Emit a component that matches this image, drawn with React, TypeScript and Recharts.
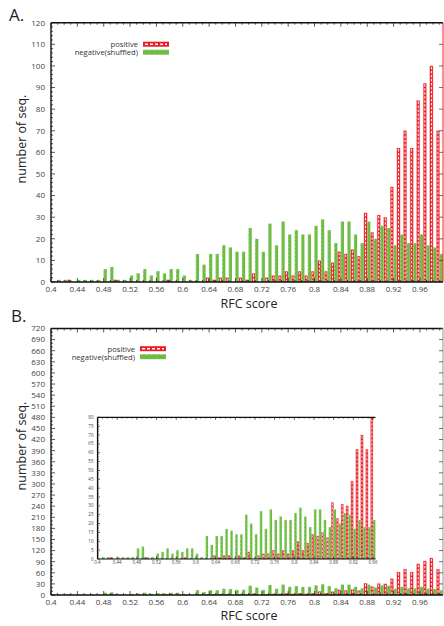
import React from 'react';
import { BarChart, Bar, XAxis, YAxis } from 'recharts';

// bin centres (RFC score), one red + one green bar per bin
const bins = [
  0.41, 0.42, 0.43, 0.44, 0.45, 0.46, 0.47, 0.48, 0.49, 0.5,
  0.51, 0.52, 0.53, 0.54, 0.55, 0.56, 0.57, 0.58, 0.59, 0.6,
  0.61, 0.62, 0.63, 0.64, 0.65, 0.66, 0.67, 0.68, 0.69, 0.7,
  0.71, 0.72, 0.73, 0.74, 0.75, 0.76, 0.77, 0.78, 0.79, 0.8,
  0.81, 0.82, 0.83, 0.84, 0.85, 0.86, 0.87, 0.88, 0.89, 0.9,
  0.91, 0.92, 0.93, 0.94, 0.95, 0.96, 0.97, 0.98, 0.99,
];

const positive = [
  0, 0, 1, 0, 0, 0, 0, 0, 0, 1,
  0, 0, 0, 0, 0, 0, 0, 1, 0, 0,
  0, 0, 0, 2, 1, 2, 2, 0, 2, 1,
  4, 0, 2, 3, 3, 5, 3, 5, 3, 5,
  10, 5, 9, 14, 13, 15, 12, 32, 23, 31,
  30, 44, 62, 70, 62, 84, 92, 100, 70,
];

const negative = [
  1, 1, 0, 1, 1, 1, 1, 6, 7, 1,
  1, 3, 4, 6, 3, 5, 4, 6, 6, 3,
  1, 13, 8, 13, 13, 17, 16, 14, 14, 25,
  20, 14, 27, 17, 28, 22, 24, 22, 22, 26,
  29, 24, 18, 28, 28, 22, 18, 28, 20, 26,
  25, 17, 22, 18, 18, 22, 17, 16, 13,
];

const xLabels = [
  '0.4', '0.44', '0.48', '0.52', '0.56', '0.6', '0.64', '0.68',
  '0.72', '0.76', '0.8', '0.84', '0.88', '0.92', '0.96',
];
const yLabelsA = [0, 10, 20, 30, 40, 50, 60, 70, 80, 90, 100, 110, 120];
const yLabelsB = [
  0, 30, 60, 90, 120, 150, 180, 210, 240, 270, 300, 330, 360,
  390, 420, 450, 480, 510, 540, 570, 600, 630, 660, 690, 720,
];
const yLabelsInset = [0, 5, 10, 15, 20, 25, 30, 35, 40, 45, 50, 55, 60, 65, 70, 75, 80];

const RED = '#ec1c24';
const GREEN = '#6dbd45';
const FONT = '"Open Sans", "DejaVu Sans", sans-serif';

function PositiveBar(props: any) {
  const { x, y, width, height } = props;
  if (!height || height <= 0) return <g />;
  const cx = x + width / 2;
  return (
    <g>
      <rect x={x} y={y} width={width} height={height} fill={RED} stroke="#f4a0a3" strokeWidth={0.4} />
      {height > 3 && (
        <line
          x1={cx}
          x2={cx}
          y1={y + 1}
          y2={y + height - 1}
          stroke="#fff"
          strokeWidth={width * 0.3}
          strokeDasharray="2.5 1.5"
        />
      )}
    </g>
  );
}

function NegativeBar(props: any) {
  const { x, y, width, height } = props;
  if (!height || height <= 0) return <g />;
  return (
    <g>
      <rect x={x} y={y} width={width} height={height} fill={GREEN} />
      <line
        x1={x + 0.3}
        x2={x + 0.3}
        y1={y}
        y2={y + height}
        stroke="#c6e6b1"
        strokeWidth={0.6}
        strokeDasharray="2 2"
      />
    </g>
  );
}

// keeps the frame axes attached to data; draws nothing
const NoBar = () => <g />;

const label = (v: number) => String(Number(v.toFixed(2)));

interface PanelProps {
  width: number;
  height: number;
  // plot-area edges inside this chart
  margin: { top: number; right: number; bottom: number; left: number };
  count: number;
  xMax: number;
  yMax: number;
  yMajor: number[];
  yStep: number;
  barSize: number;
  fontSize: number;
  tickLen: number;
  lineWidth: number;
  labelGap: number;
  xLabelDy: number;
  rightStroke?: string;
  left: number;
  top: number;
}

function Panel(p: PanelProps) {
  const rows = bins.slice(0, p.count).map((b, i) => ({
    bin: b.toFixed(2),
    x: b,
    positive: positive[i],
    negative: negative[i],
  }));
  const plotW = p.width - p.margin.left - p.margin.right;
  const band = plotW / (p.count + 0.5);
  const xTicks = [0.4, ...bins.slice(0, p.count)];
  const yTicks: number[] = [];
  for (let v = 0; v <= p.yMax; v += p.yStep) yTicks.push(v);
  // axes get a 1px box (a 0px one is not drawn), taken out of the margins
  const m = {
    top: p.margin.top - 1,
    bottom: p.margin.bottom - 1,
    left: p.margin.left - 1,
    right: p.rightStroke ? p.margin.right - 1 : p.margin.right,
  };
  const frameY = p.rightStroke ? 'right' : 'left';

  const bottomTick = (t: any) => {
    const v = t.payload.value;
    const major = xLabels.includes(label(v));
    return (
      <g>
        <line x1={t.x} x2={t.x} y1={t.y} y2={t.y - (major ? p.tickLen : p.tickLen / 2)} stroke="#111" strokeWidth={0.7} />
        {major && (
          <text x={t.x} y={t.y + p.xLabelDy} textAnchor="middle" fontSize={p.fontSize} fill="#444" fontFamily={FONT}>
            {label(v)}
          </text>
        )}
      </g>
    );
  };
  const topTick = (t: any) => {
    const major = xLabels.includes(label(t.payload.value));
    return (
      <line x1={t.x} x2={t.x} y1={t.y} y2={t.y + (major ? p.tickLen : p.tickLen / 2)} stroke="#111" strokeWidth={0.7} />
    );
  };
  const leftTick = (t: any) => {
    const v = t.payload.value;
    const major = p.yMajor.includes(v);
    return (
      <g>
        <line x1={t.x} x2={t.x + (major ? p.tickLen : p.tickLen / 2)} y1={t.y} y2={t.y} stroke="#111" strokeWidth={0.7} />
        {major && (
          <text
            x={t.x - p.labelGap}
            y={t.y + p.fontSize * 0.36}
            textAnchor="end"
            fontSize={p.fontSize}
            fill="#444"
            fontFamily={FONT}
          >
            {v}
          </text>
        )}
      </g>
    );
  };
  const rightTick = (t: any) => (
    <line x1={t.x} x2={t.x - p.tickLen} y1={t.y} y2={t.y} stroke="#333" strokeWidth={0.7} />
  );

  return (
    <div style={{ position: 'absolute', left: p.left, top: p.top }}>
      <BarChart width={p.width} height={p.height} data={rows} margin={m} barCategoryGap={0} barGap={0}>
        <XAxis xAxisId="cat" dataKey="bin" type="category" hide height={0} padding={{ left: band / 2, right: 0 }} />
        <XAxis
          xAxisId="num"
          dataKey="x"
          type="number"
          domain={[0.4, p.xMax]}
          allowDataOverflow
          ticks={xTicks}
          interval={0}
          height={1}
          tickSize={0}
          tickMargin={0}
          tickLine={false}
          axisLine={{ stroke: '#111', strokeWidth: p.lineWidth }}
          tick={bottomTick}
        />
        <XAxis
          xAxisId="top"
          dataKey="x"
          orientation="top"
          type="number"
          domain={[0.4, p.xMax]}
          allowDataOverflow
          ticks={xTicks}
          interval={0}
          height={1}
          tickSize={0}
          tickMargin={0}
          tickLine={false}
          axisLine={{ stroke: '#111', strokeWidth: p.lineWidth }}
          tick={topTick}
        />
        <YAxis
          yAxisId="left"
          type="number"
          domain={[0, p.yMax]}
          allowDataOverflow
          ticks={yTicks}
          interval={0}
          width={1}
          tickSize={0}
          tickMargin={0}
          tickLine={false}
          axisLine={{ stroke: '#111', strokeWidth: p.lineWidth }}
          tick={leftTick}
        />
        {p.rightStroke && (
          <YAxis
            yAxisId="right"
            orientation="right"
            type="number"
            domain={[0, p.yMax]}
            allowDataOverflow
            ticks={p.yMajor}
            interval={0}
            width={1}
            tickSize={0}
            tickMargin={0}
            tickLine={false}
            axisLine={{ stroke: p.rightStroke, strokeWidth: 1 }}
            tick={rightTick}
          />
        )}
        <Bar
          xAxisId="cat"
          yAxisId="left"
          dataKey="positive"
          barSize={p.barSize}
          shape={PositiveBar}
          isAnimationActive={false}
        />
        <Bar
          xAxisId="cat"
          yAxisId="left"
          dataKey="negative"
          barSize={p.barSize}
          shape={NegativeBar}
          isAnimationActive={false}
        />
        <Bar xAxisId="num" yAxisId={frameY} dataKey="negative" shape={NoBar} legendType="none" isAnimationActive={false} />
        <Bar xAxisId="top" yAxisId={frameY} dataKey="negative" shape={NoBar} legendType="none" isAnimationActive={false} />
      </BarChart>
    </div>
  );
}

function LegendKey({ x, y, text }: { x: number; y: number; text: string }) {
  return (
    <g fontFamily={FONT} fontSize={7.6} fill="#333">
      <text x={x - 5} y={y + 2.8} textAnchor="end">positive</text>
      <rect x={x} y={y - 2.5} width={26} height={5} fill={RED} />
      <line x1={x + 2} x2={x + 24} y1={y} y2={y} stroke="#fff" strokeWidth={1.6} strokeDasharray="3 2" />
      <text x={x - 5} y={y + 11.2} textAnchor="end">{text}</text>
      <rect x={x} y={y + 5.5} width={26} height={5} fill={GREEN} />
      <line x1={x} x2={x + 26} y1={y + 5.8} y2={y + 5.8} stroke="#c6e6b1" strokeWidth={0.6} strokeDasharray="3 2" />
    </g>
  );
}

export default function App() {
  return (
    <div style={{ position: 'absolute', left: 0, top: 0, width: 444, height: 626, background: '#fff', overflow: 'hidden' }}>
      <Panel
        left={0}
        top={0}
        width={444}
        height={300}
        margin={{ top: 22.7, right: 1, bottom: 18, left: 51 }}
        count={59}
        xMax={0.995}
        yMax={120}
        yMajor={yLabelsA}
        yStep={2}
        barSize={3.2}
        fontSize={8}
        tickLen={4}
        lineWidth={1.4}
        labelGap={6}
        xLabelDy={10}
        rightStroke={RED}
      />
      <Panel
        left={0}
        top={300}
        width={444}
        height={326}
        margin={{ top: 28.5, right: 1, bottom: 31, left: 51 }}
        count={59}
        xMax={0.995}
        yMax={720}
        yMajor={yLabelsB}
        yStep={10}
        barSize={3.2}
        fontSize={8}
        tickLen={4}
        lineWidth={1.4}
        labelGap={6}
        xLabelDy={9.5}
        rightStroke="#999"
      />
      <Panel
        left={0}
        top={400}
        width={444}
        height={170}
        margin={{ top: 17.3, right: 68.5, bottom: 11, left: 97.5 }}
        count={56}
        xMax={0.965}
        yMax={80}
        yMajor={yLabelsInset}
        yStep={1}
        barSize={2.4}
        fontSize={4.5}
        tickLen={2.5}
        lineWidth={1.2}
        labelGap={4}
        xLabelDy={5.3}
      />
      <svg width={444} height={626} style={{ position: 'absolute', left: 0, top: 0, pointerEvents: 'none' }}>
        <g fontFamily={FONT} fill="#222">
          <text x={9} y={21} fontSize={17}>A.</text>
          <text x={11} y={322} fontSize={17}>B.</text>
          <text x={249} y={307.5} fontSize={12.5} textAnchor="middle">RFC score</text>
          <text x={249} y={620} fontSize={12.5} textAnchor="middle">RFC score</text>
          <text transform="translate(26,139) rotate(-90)" fontSize={12.5} textAnchor="middle">number of seq.</text>
          <text transform="translate(26,446) rotate(-90)" fontSize={12.5} textAnchor="middle">number of seq.</text>
        </g>
        <LegendKey x={143} y={44.2} text="negative(shuffled)" />
        <LegendKey x={140} y={348.7} text="negative(shuffled)" />
      </svg>
    </div>
  );
}
